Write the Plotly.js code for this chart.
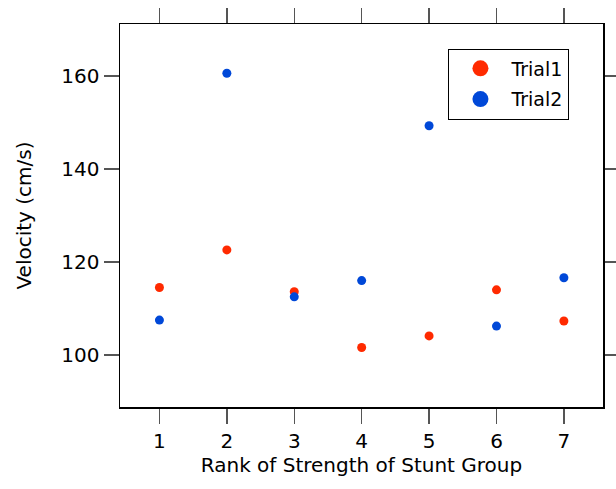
<!DOCTYPE html>
<html><head><meta charset="utf-8">
<script src="https://cdn.plot.ly/plotly-3.0.1.min.js"></script>
<style>html,body{margin:0;padding:0;background:#fff}#chart{width:616px;height:489px}</style>
</head><body><div id="chart"></div>
<script>
var ranks = [1, 2, 3, 4, 5, 6, 7];
var trial1 = [114.5, 122.6, 113.6, 101.6, 104.1, 114.0, 107.3];
var trial2 = [107.5, 160.6, 112.5, 116.0, 149.3, 106.2, 116.6];
var seriesNames = ['Trial1', 'Trial2'];
var colors = ['#ff2a00', '#0048d8'];

var font = 'DejaVu Sans, Verdana, sans-serif';
var data = [
  {x: ranks, y: trial1, mode: 'markers', type: 'scatter', name: seriesNames[0], showlegend: false,
   marker: {color: colors[0], size: 9}},
  {x: ranks, y: trial2, mode: 'markers', type: 'scatter', name: seriesNames[1], showlegend: false,
   marker: {color: colors[1], size: 9}},
  {x: [null], y: [null], mode: 'markers', type: 'scatter', name: seriesNames[0], legendgroup: 'a',
   marker: {color: colors[0], size: 16}},
  {x: [null], y: [null], mode: 'markers', type: 'scatter', name: seriesNames[1], legendgroup: 'b',
   marker: {color: colors[1], size: 16}}
];
var axisCommon = {
  showline: true, linecolor: '#000', linewidth: 1.5, mirror: 'allticks',
  ticks: 'outside', ticklen: 15, tickwidth: 1.3, tickcolor: '#555',
  showgrid: false, zeroline: false,
  tickfont: {family: font, size: 20, color: '#000'}
};
var layout = {
  width: 616, height: 489,
  margin: {l: 120, r: 13, t: 24, b: 82},
  paper_bgcolor: '#fff', plot_bgcolor: '#fff',
  font: {family: font, color: '#000'},
  xaxis: Object.assign({}, axisCommon, {
    range: [0.415, 7.58], tickvals: ranks, ticktext: ranks.map(String),
    title: {text: 'Rank of Strength of Stunt Group', font: {family: font, size: 20}, standoff: 6}
  }),
  yaxis: Object.assign({}, axisCommon, {
    range: [88.8, 171.2], tickvals: [100, 120, 140, 160],
    title: {text: 'Velocity (cm/s)', font: {family: font, size: 20}, standoff: 24}
  }),
  legend: {
    x: 0.68, y: 0.936, xanchor: 'left', yanchor: 'top',
    bgcolor: '#fff', bordercolor: '#000', borderwidth: 1,
    font: {family: font, size: 19, color: '#000'},
    itemwidth: 52, tracegroupgap: 3
  },
  showlegend: true
};
Plotly.newPlot('chart', data, layout, {displayModeBar: false, staticPlot: true});
</script></body></html>
